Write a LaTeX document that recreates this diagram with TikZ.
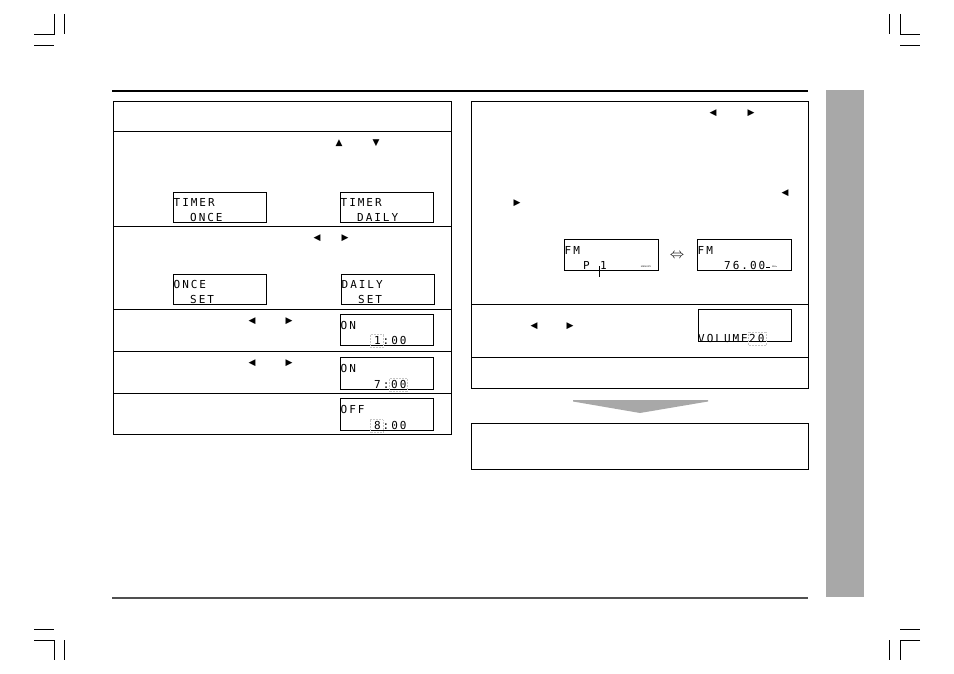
\documentclass[tikz,border=0pt]{standalone}
\usepackage{fontspec}
\usetikzlibrary{positioning,calc}
\newfontfamily\lcdfont[LetterSpace=18]{DejaVu Sans Mono}
\newfontfamily\symfont{DejaVu Sans}
\definecolor{tabgray}{HTML}{A8A8A8}
\definecolor{rulegray}{HTML}{505050}
\tikzset{panel/.style={draw,line width=0.9pt},
  crop/.style={line width=0.8pt},
  lcd/.style={draw,line width=0.9pt,anchor=north west,minimum width=93pt,minimum height=30pt,inner sep=0pt},
  lcdtxt/.style={font=\lcdfont\fontsize{11}{11}\selectfont,inner sep=0pt,anchor=west},
  tinytxt/.style={font=\sffamily\fontsize{2.2}{2.2}\selectfont,inner sep=0pt},
  key/.style={font=\symfont\fontsize{9}{9}\selectfont,inner sep=0pt},
  blink/.style={draw=gray!45,densely dotted,line width=0.5pt}}

\begin{document}
\begin{tikzpicture}[x=1pt,y=-1pt]
\useasboundingbox (0,0) rectangle (954,674);
% crop marks
\draw[crop] (54,14) -- (54,34) -- (34,34) (64,14) -- (64,34) (34,45) -- (54,45);
\draw[crop] (889,14) -- (889,34) (900,14) -- (900,34) -- (920,34) (900,45) -- (920,45);
\draw[crop] (34,629) -- (54,629) (34,640) -- (54,640) -- (54,660) (64,640) -- (64,660);
\draw[crop] (900,629) -- (920,629) (920,640) -- (900,640) -- (900,660) (889,640) -- (889,660);
% rules and side tab
\draw[line width=2.6pt] (112,91) -- (808,91);
\draw[rulegray,line width=1.8pt] (112,598) -- (808,598);
\fill[tabgray] (826,90) rectangle (864,597);

% left panel
\draw[panel] (113,101) rectangle (451,434);
\foreach \y in {131,226,309,351,393}
  \draw[panel] (113,\y) -- (451,\y);
\node[key] (upK) at (339,143) {▲};
\node[key] (downK) at (376,143) {▼};
\node[key] (leftA) at (317,238) {◀};
\node[key] (rightA) at (345,238) {▶};
\node[key] (leftB) at (252,321) {◀};
\node[key] (rightB) at (289,321) {▶};
\node[key] (leftC) at (252,363) {◀};
\node[key] (rightC) at (289,363) {▶};

\node[lcd] (dOnce) at (173,192) {};
\node[lcdtxt] (dOnceA) at ([xshift=0.5pt,yshift=-10pt]dOnce.north west) {TIMER};
\node[lcdtxt] (dOnceB) at ([xshift=17pt,yshift=5pt]dOnce.south west) {ONCE};
\node[lcd] (dDaily) at (340,192) {};
\node[lcdtxt] (dDailyA) at ([xshift=0.5pt,yshift=-10pt]dDaily.north west) {TIMER};
\node[lcdtxt] (dDailyB) at ([xshift=17pt,yshift=5pt]dDaily.south west) {DAILY};

\node[lcd] (sOnce) at (173,274) {};
\node[lcdtxt] (sOnceA) at ([xshift=0.5pt,yshift=-10pt]sOnce.north west) {ONCE};
\node[lcdtxt] (sOnceB) at ([xshift=17pt,yshift=5pt]sOnce.south west) {SET};
\node[lcd] (sDaily) at (341,274) {};
\node[lcdtxt] (sDailyA) at ([xshift=0.5pt,yshift=-10pt]sDaily.north west) {DAILY};
\node[lcdtxt] (sDailyB) at ([xshift=17pt,yshift=5pt]sDaily.south west) {SET};

\node[lcd,minimum height=31pt] (onA) at (340,314) {};
\node[lcdtxt] (onAt) at ([xshift=0.5pt,yshift=-11pt]onA.north west) {ON};
\node[lcdtxt] (onAh) at ([xshift=34pt,yshift=5pt]onA.south west) {1};
\node[lcdtxt] (onAm) at ([xshift=42.5pt,yshift=5pt]onA.south west) {:00};
\draw[blink] ([xshift=-4pt,yshift=2pt]onAh.north west) rectangle ([xshift=2pt,yshift=-2pt]onAh.south east);

\node[lcd,minimum height=32pt] (onB) at (340,357) {};
\node[lcdtxt] (onBt) at ([xshift=0.5pt,yshift=-11pt]onB.north west) {ON};
\node[lcdtxt] (onBh) at ([xshift=34pt,yshift=5pt]onB.south west) {7:};
\node[lcdtxt] (onBm) at ([xshift=51pt,yshift=5pt]onB.south west) {00};
\draw[blink] ([xshift=-2pt,yshift=2pt]onBm.north west) rectangle ([xshift=1pt,yshift=-2pt]onBm.south east);

\node[lcd,minimum height=32pt] (offC) at (340,398) {};
\node[lcdtxt] (offCt) at ([xshift=0.5pt,yshift=-11pt]offC.north west) {OFF};
\node[lcdtxt] (offCh) at ([xshift=34pt,yshift=5pt]offC.south west) {8};
\node[lcdtxt] (offCm) at ([xshift=42.5pt,yshift=5pt]offC.south west) {:00};
\draw[blink] ([xshift=-4pt,yshift=2pt]offCh.north west) rectangle ([xshift=2pt,yshift=-2pt]offCh.south east);

% right panel
\draw[panel] (471,101) rectangle (808,388);
\foreach \y in {304,357}
  \draw[panel] (471,\y) -- (808,\y);
\node[key] (leftD) at (713,113) {◀};
\node[key] (rightD) at (751,113) {▶};
\node[key] (leftE) at (785,193) {◀};
\node[key] (rightE) at (517,203) {▶};
\node[key] (leftF) at (534,326) {◀};
\node[key] (rightF) at (570,326) {▶};

\node[lcd,minimum width=94pt,minimum height=31pt] (fmP) at (564,239) {};
\node[lcdtxt] (fmPt) at ([xshift=0.5pt,yshift=-11pt]fmP.north west) {FM};
\node[lcdtxt] (fmPp) at ([xshift=19pt,yshift=5pt]fmP.south west) {P};
\node[lcdtxt] (fmPn) at ([xshift=36pt,yshift=5pt]fmP.south west) {1};
\coordinate (cursorTop) at (599,266);
\coordinate (cursorBot) at (599,277);
\draw[line width=0.7pt] (cursorTop) -- (cursorBot);
\node[tinytxt] (fmPm) at (646,267) {MEMORY};
\node[font=\fontsize{14}{14}\selectfont,inner sep=0pt] (swap) at (677,256) {$\Leftrightarrow$};
\node[lcd,minimum width=94pt,minimum height=31pt] (fmF) at (697,239) {};
\node[lcdtxt] (fmFt) at ([xshift=0.5pt,yshift=-11pt]fmF.north west) {FM};
\node[lcdtxt] (fmFn) at ([xshift=27pt,yshift=5pt]fmF.south west) {76.00};
\draw[line width=0.6pt] (766,267) -- (770,267);
\node[tinytxt,anchor=west] (fmFu) at (772,267) {MHz};

\node[lcd,minimum height=32pt] (vol) at (698,309) {};
\node[lcdtxt] (volA) at ([xshift=0pt,yshift=3.5pt]vol.south west) {VOLUME};
\node[lcdtxt] (volB) at ([xshift=51pt,yshift=3.5pt]vol.south west) {20};
\draw[blink] ([xshift=-1pt,yshift=2pt]volB.north west) rectangle ([xshift=2pt,yshift=-2pt]volB.south east);

% arrow to last box
\fill[tabgray] (573,400) -- (708,400) -- (708,401.5) -- (640,413) -- (573,401.5) -- cycle;
\draw[panel] (471,423) rectangle (808,469);
\end{tikzpicture}
\end{document}
